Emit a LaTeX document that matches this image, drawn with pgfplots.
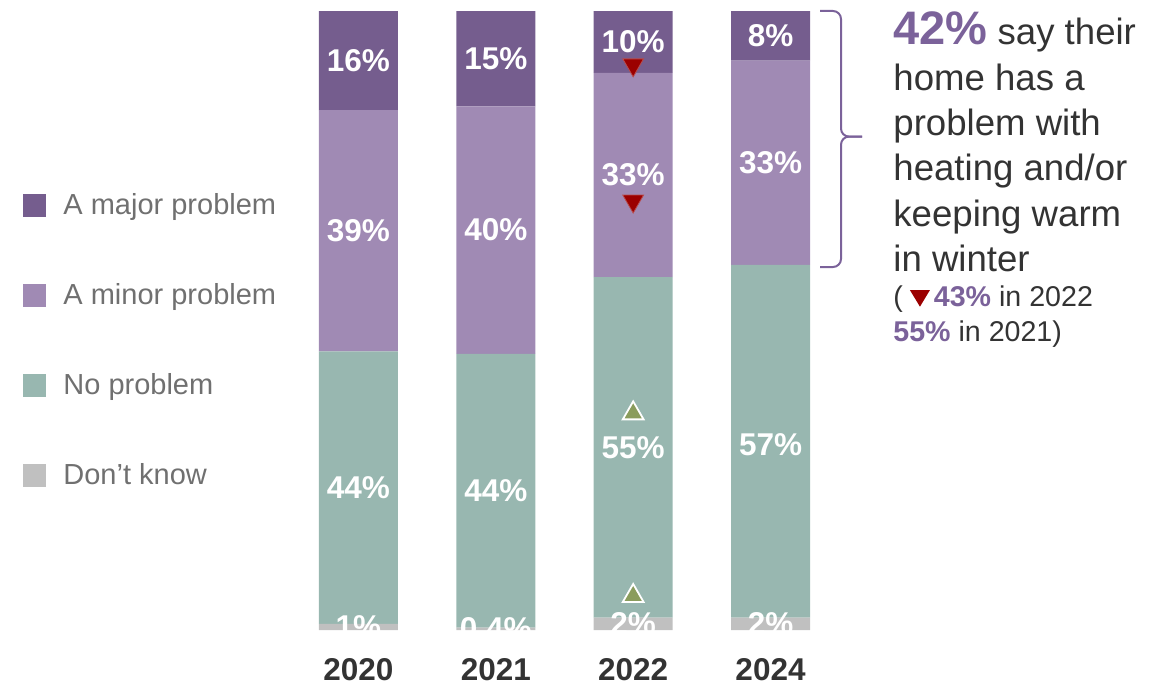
\documentclass[border=0pt]{standalone}
\usepackage{fontspec}
\setmainfont{Liberation Sans}
\usepackage{pgfplots}
\usepackage{pgfplotstable}
\pgfplotsset{compat=1.18}

\definecolor{majorc}{RGB}{117,93,142}
\definecolor{minorc}{RGB}{160,138,180}
\definecolor{noprobc}{RGB}{152,183,176}
\definecolor{dkc}{RGB}{192,192,192}
\definecolor{darktxt}{RGB}{51,51,51}
\definecolor{legtxt}{RGB}{112,112,112}
\definecolor{purptxt}{RGB}{123,98,154}
\definecolor{downred}{RGB}{155,0,0}
\definecolor{upgreen}{RGB}{138,156,92}

% shares by year (0=2020, 1=2021, 2=2022, 3=2024)
\pgfplotstableread{
x dk noprob minor major
0 1   44   39   16
1 0.4 44.2 40.0 15.4
2 2   55   33   10
3 2   57   33   8
}\shares

% label positions (segment centres)
\pgfplotstableread{
x y lab
0 0.5 1
0 23 44
0 64.5 39
0 92 16
1 0.2 0.4
1 22.5 44
1 64.6 40
1 92.3 15
2 1 2
2 29.5 55
2 73.5 33
2 95 10
3 1 2
3 30 57
3 75.5 33
3 96 8
}\labels

\begin{document}
\begin{tikzpicture}
\useasboundingbox (0,0) rectangle (585pt,-342pt);

\begin{axis}[
  at={(144.9pt,-315pt)}, anchor=south west,
  scale only axis, width=274.7pt, height=309.5pt,
  ybar stacked, bar width=39.5pt,
  xmin=-0.5, xmax=3.5, ymin=0, ymax=100,
  xtick={0,1,2,3}, xticklabels={2020,2021,2022,2024},
  xticklabel style={font=\bfseries\fontsize{15.75}{18}\selectfont, text=darktxt, anchor=base, yshift=-25pt},
  ytick=\empty, major tick length=0pt,
  axis line style={draw=none},
  reverse legend,
  legend cell align=left,
  legend image code/.code={\fill[#1,draw=none] (0pt,-5.75pt) rectangle (11.5pt,5.75pt);},
  legend style={at={(-0.4856,0.706)}, anchor=north west, draw=none, fill=none,
    inner sep=0pt, font=\fontsize{14.5}{17}\selectfont, text=legtxt, row sep=33pt,
    nodes={inner sep=0pt},
    /tikz/every odd column/.append style={column sep=8.5pt}},
]
\addplot[fill=dkc, draw=none] table[x=x, y=dk] {\shares};
\addlegendentry{Don’t know}
\addplot[fill=noprobc, draw=none] table[x=x, y=noprob] {\shares};
\addlegendentry{No problem}
\addplot[fill=minorc, draw=none] table[x=x, y=minor] {\shares};
\addlegendentry{A minor problem}
\addplot[fill=majorc, draw=none] table[x=x, y=major] {\shares};
\addlegendentry{A major problem}
\end{axis}

\begin{axis}[
  at={(144.9pt,-315pt)}, anchor=south west,
  scale only axis, width=274.7pt, height=309.5pt,
  xmin=-0.5, xmax=3.5, ymin=0, ymax=100,
  hide axis, clip=false,
]
\addplot[only marks, mark=text, text mark={},
  point meta=explicit symbolic,
  nodes near coords={\pgfplotspointmeta\%},
  every node near coord/.append style={anchor=center, text=white,
    font=\bfseries\fontsize{15.75}{18}\selectfont}]
  table[x=x, y=y, meta=lab] {\labels};
% significance markers for 2022
\addplot[only marks, mark=triangle*, mark size=6pt,
  mark options={rotate=180, fill=downred, draw=downred!70!white, line width=0.4pt}]
  coordinates {(2,91.3) (2,69.3)};
\addplot[only marks, mark=triangle*, mark size=6pt,
  mark options={fill=upgreen, draw=white, line width=0.9pt}]
  coordinates {(2,35.0) (2,5.5)};
\end{axis}

% brace
\draw[purptxt, line width=1pt, rounded corners=4pt]
  (410pt,-5.5pt) -- (420.5pt,-5.5pt) -- (420.5pt,-68.3pt) -- (431pt,-68.3pt);
\draw[purptxt, line width=1pt, rounded corners=4pt]
  (410pt,-133.5pt) -- (420.5pt,-133.5pt) -- (420.5pt,-68.3pt) -- (431pt,-68.3pt);

% annotation
\begin{scope}[every node/.style={anchor=base west, inner sep=0pt, text=darktxt,
    font=\fontsize{18.3}{22}\selectfont}]
\node at (446.5pt,-22.5pt) {\textcolor{purptxt}{\bfseries\fontsize{23.5}{24}\selectfont 42\%} say their};
\node at (446.5pt,-45.35pt) {home has a};
\node at (446.5pt,-68pt) {problem with};
\node at (446.5pt,-90.5pt) {heating and/or};
\node at (446.5pt,-113.35pt) {keeping warm};
\node at (446.5pt,-135.85pt) {in winter};
\node[font=\fontsize{14.3}{17}\selectfont] at (446.5pt,-153.35pt)
  {(\hspace{3.5pt}\tikz[baseline=0pt]\fill[downred] (0pt,8.3pt) -- (10pt,8.3pt) -- (5pt,0pt) -- cycle;\hspace{2pt}\textcolor{purptxt}{\bfseries 43\%} in 2022};
\node[font=\fontsize{14.3}{17}\selectfont] at (446.5pt,-170.85pt)
  {\textcolor{purptxt}{\bfseries 55\%} in 2021)};
\end{scope}
\end{tikzpicture}
\end{document}
